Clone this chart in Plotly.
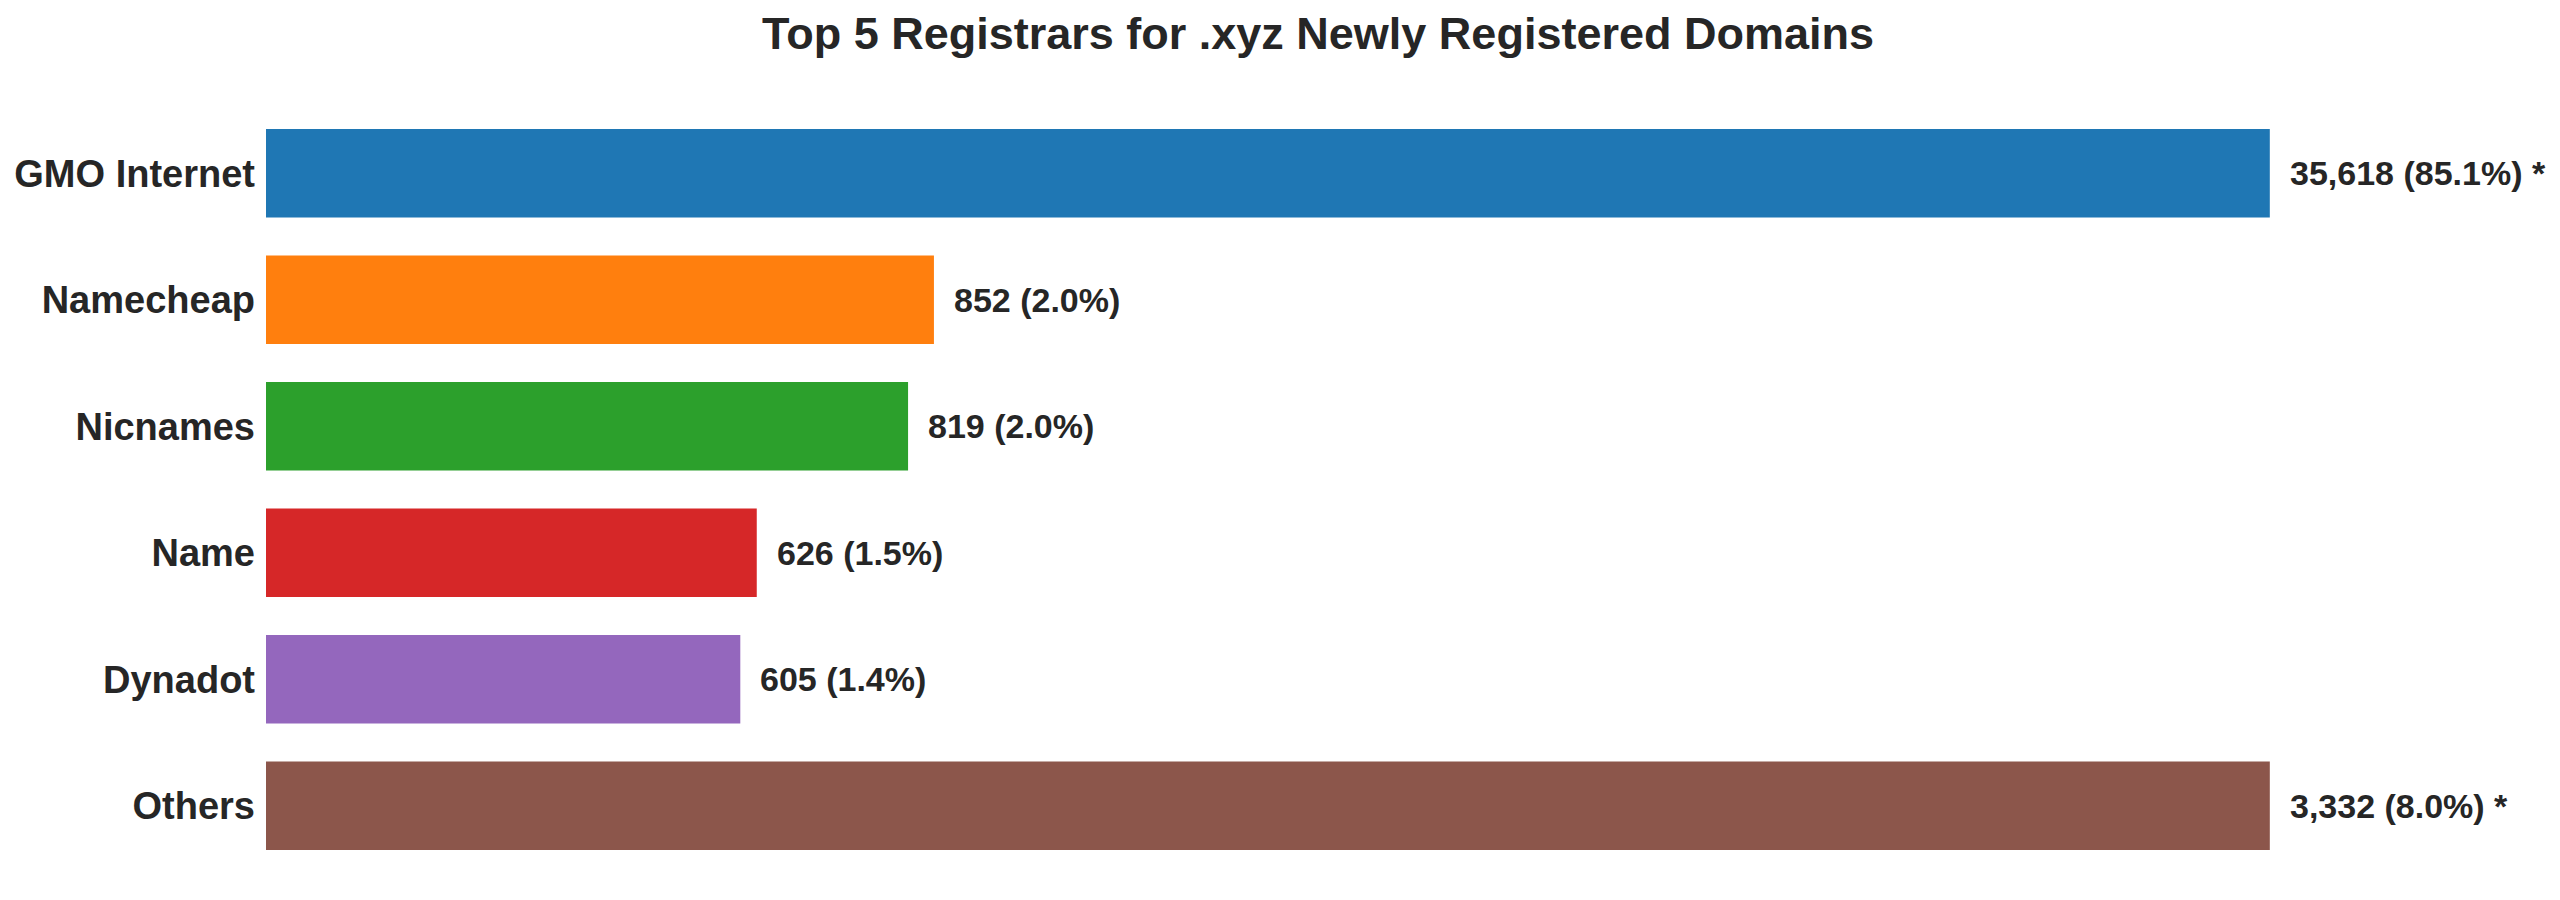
import plotly.graph_objects as go

registrars = ["GMO Internet", "Namecheap", "Nicnames", "Name", "Dynadot", "Others"]
counts = [35618, 852, 819, 626, 605, 3332]
colors = ["#1f77b4", "#ff7f0e", "#2ca02c", "#d62728", "#9467bd", "#8c564b"]
title = "Top 5 Registrars for .xyz Newly Registered Domains"

total = sum(counts)
cap = 3 * counts[1]
shown = [min(c, cap) for c in counts]
labels = []
for c in counts:
    s = f"{c:,} ({c / total * 100:.1f}%)"
    if c > cap:
        s += " *"
    labels.append(s)

FONT = "Liberation Sans, Arial, sans-serif"
TXT = "#262626"

fig = go.Figure()
fig.add_trace(go.Bar(
    y=registrars, x=shown, orientation="h",
    marker=dict(color=colors, line=dict(width=0)),
    hoverinfo="skip",
))
for r, v, t in zip(registrars, shown, labels):
    fig.add_annotation(x=v, y=r, xref="x", yref="y", text=f"<b>{t}</b>",
                       showarrow=False, xanchor="left", yanchor="middle",
                       xshift=18, font=dict(family=FONT, size=34, color=TXT))

fig.update_layout(
    width=2560, height=900,
    margin=dict(l=266, r=190, t=110, b=31),
    paper_bgcolor="white", plot_bgcolor="white",
    bargap=0.3,
    showlegend=False,
    title=dict(text=f"<b>{title}</b>", x=0.5, xref="paper", xanchor="center",
               y=1 - 33 / 900, yref="container", yanchor="middle",
               font=dict(family=FONT, size=45, color=TXT)),
    xaxis=dict(range=[0, cap * 1.05], showgrid=False, zeroline=False,
               showticklabels=False, showline=False, ticks=""),
    yaxis=dict(categoryorder="array", categoryarray=registrars, autorange="reversed",
               showgrid=False, zeroline=False, showline=False, ticks="",
               ticklabelstandoff=10,
               tickfont=dict(family=FONT, size=38, color=TXT),
               tickprefix="<b>", ticksuffix="</b>"),
)
fig.write_html("out.html")
